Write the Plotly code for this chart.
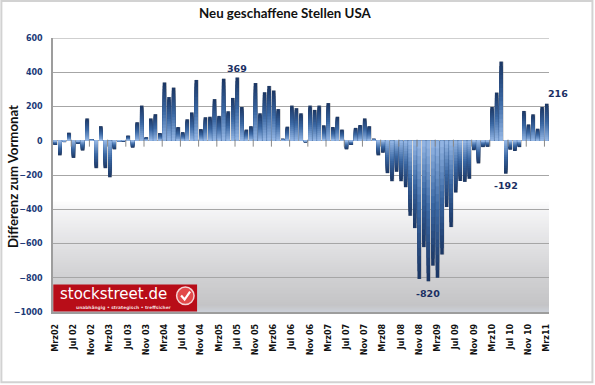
import plotly.graph_objects as go

tick_labels = ["Mrz02","Jul 02","Nov 02","Mrz03","Jul 03","Nov 03","Mrz04","Jul 04","Nov 04",
               "Mrz05","Jul 05","Nov 05","Mrz06","Jul 06","Nov 06","Mrz07","Jul 07","Nov 07",
               "Mrz08","Jul 08","Nov 08","Mrz09","Jul 09","Nov 09","Mrz10","Jul 10","Nov 10","Mrz11"]
values = [-25,-85,-8,47,-100,-18,-57,130,10,-160,85,-160,-213,-50,-5,-2,30,-40,108,205,20,130,155,45,
          340,255,310,80,50,125,165,355,68,137,140,243,145,362,172,250,369,197,65,85,337,160,283,320,
          293,185,12,82,205,190,160,-10,205,180,205,90,220,80,140,65,-50,-25,75,92,130,85,12,-85,-70,
          -189,-236,-181,-236,-271,-438,-510,-807,-621,-820,-729,-800,-664,-387,-504,-302,-235,-240,
          -222,-55,-132,-37,-35,197,281,462,-192,-52,-60,-37,174,95,154,70,197,216]
labelled = {"369": 40, "-820": 82, "-192": 99, "216": 108}
y_ticks = [600,400,200,0,-200,-400,-600,-800,-1000]

W, H = 595, 385
L, R, T, B = 52.7, 549.5, 38, 312.5
x_idx = list(range(len(values)))
tick_idx = x_idx[::4]

def px(x): return (x - L) / (R - L)
def py(y): return (B - y) / (B - T)
def lerp(a, b, t): return tuple(a[i] + (b[i] - a[i]) * t for i in range(3))
def rgb(c): return "rgb(%d,%d,%d)" % tuple(round(v) for v in c)

fig = go.Figure()

# tick marks on the zero line
fig.add_trace(go.Scatter(x=[i - 0.5 for i in tick_idx[1:]], y=[-14]*(len(tick_idx)-1), mode="markers",
    marker=dict(symbol="line-ns", size=5, line=dict(color="#8a8a8a", width=1)), hoverinfo="skip"))

# shadow behind the bars
fig.add_trace(go.Bar(x=x_idx, y=values, width=0.84, offset=-0.36,
    marker=dict(color="rgba(140,140,140,0.75)", line_width=0), hoverinfo="skip"))

# bar gradient: nested bars, dark at the tip, light at the base
N = 18
tip, mid, base = (28, 56, 102), (58, 103, 163), (146, 180, 226)
for k in range(N):
    t = k / (N - 1)
    col = lerp(tip, mid, t / 0.5) if t < 0.5 else lerp(mid, base, (t - 0.5) / 0.5)
    frac = 1 - k / N
    fig.add_trace(go.Bar(x=x_idx, y=[v * frac for v in values], width=0.74, offset=-0.39,
        marker=dict(color=rgb(col), line_width=0), hoverinfo="skip"))

shapes = []
# frame
shapes.append(dict(type="rect", xref="paper", yref="paper", x0=px(1), x1=px(593), y0=py(383), y1=py(1),
    line=dict(color="#d2d2d2", width=2), fillcolor="white", layer="below"))
# plot-area gradient: nested rectangles so no seams appear
stops = [(-350,(255,255,255)),(-400,(245,245,246)),(-600,(226,226,228)),(-800,(208,208,210)),(-960,(196,196,198)),(-1000,(204,208,216))]
for (a, ca), (b, cb) in zip(stops, stops[1:]):
    n = max(1, int((a - b) / 6))
    for i in range(n):
        y0 = a + (b - a) * i / n
        shapes.append(dict(type="rect", xref="paper", yref="y", x0=0, x1=1, y0=y0, y1=-1000,
            fillcolor=rgb(lerp(ca, cb, (i + .5) / n)), line_width=0, layer="below"))
# lighter top line
shapes.append(dict(type="line", xref="paper", yref="y", x0=0, x1=1, y0=600, y1=600,
    line=dict(color="#cfcfcf", width=2), layer="between"))
# logo
shapes.append(dict(type="rect", xref="paper", yref="paper", x0=px(53), x1=px(197), y0=py(312), y1=py(285),
    fillcolor="#b80d18", line_width=0, layer="above"))
shapes.append(dict(type="circle", xref="paper", yref="paper", x0=px(176.5), x1=px(194), y0=py(305), y1=py(287.5),
    fillcolor="#e24a4a", line=dict(color="#f4d4d4", width=1.5), layer="above"))
shapes.append(dict(type="path", xref="paper", yref="paper",
    path=f"M {px(181)} {py(296)} L {px(184.5)} {py(300)} L {px(190)} {py(292)}",
    line=dict(color="white", width=2.2), layer="above"))
fig.update_layout(shapes=shapes)

ann = []
lab_font = dict(family="DejaVu Sans", size=9.5, color="#1b2f63")
offs = {"369": (0, 9), "-820": (0, -12), "-192": (0, -12), "216": (11, 10)}
for txt, i in labelled.items():
    dx, dy = offs[txt]
    ann.append(dict(x=i, y=values[i], text=f"<b>{txt}</b>", showarrow=False, font=lab_font,
                    xanchor="center", yanchor="middle", xshift=dx, yshift=dy))
def paper_text(x, y, text, font, **kw):
    ann.append(dict(xref="paper", yref="paper", x=px(x), y=py(y), text=text, showarrow=False, font=font,
                    xanchor="center", yanchor="middle", **kw))
paper_text(113, 294.5, "stockstreet.de", dict(family="DejaVu Sans", size=15, color="white"))
paper_text(124, 308, "<b>unabhängig • strategisch • treffsicher</b>", dict(family="DejaVu Sans", size=4.4, color="#f2d8d8"))
paper_text(285.5, 13, "<b>Neu geschaffene Stellen USA</b>", dict(family="Lato", size=13.3, color="#111111"))
paper_text(12, 177, "<b>Differenz zum Vormonat</b>", dict(family="Lato", size=13.2, color="#111111"), textangle=-90)
fig.update_layout(annotations=ann)

fig.update_layout(
    width=W, height=H, margin=dict(l=L, r=W - R, t=T, b=H - B, pad=0),
    paper_bgcolor="white", plot_bgcolor="rgba(0,0,0,0)", showlegend=False, barmode="overlay", autosize=False,
    xaxis=dict(range=[-0.5, len(values) - 0.5], tickvals=tick_idx, ticktext=tick_labels, tickangle=-90,
        ticks="outside", ticklen=7, tickcolor="rgba(0,0,0,0)", showgrid=False, zeroline=False,
        showline=True, linecolor="#9d9d9d", linewidth=1.5,
        tickfont=dict(family="DejaVu Sans", size=8, color="#111111", weight="bold")),
    yaxis=dict(range=[-1000, 600], tickvals=y_ticks, ticks="outside", ticklen=7, tickcolor="rgba(0,0,0,0)",
        gridcolor="#a6a6a6", gridwidth=1,
        zeroline=True, zerolinecolor="#a6a6a6", zerolinewidth=1, showline=True, linecolor="#9d9d9d", linewidth=1.5,
        tickfont=dict(family="DejaVu Sans", size=8, color="#1b3a78", weight="bold")),
)

fig.write_html("out.html", config=dict(displayModeBar=False),
    post_script="document.body.style.margin='0';document.documentElement.style.overflow='hidden';")
